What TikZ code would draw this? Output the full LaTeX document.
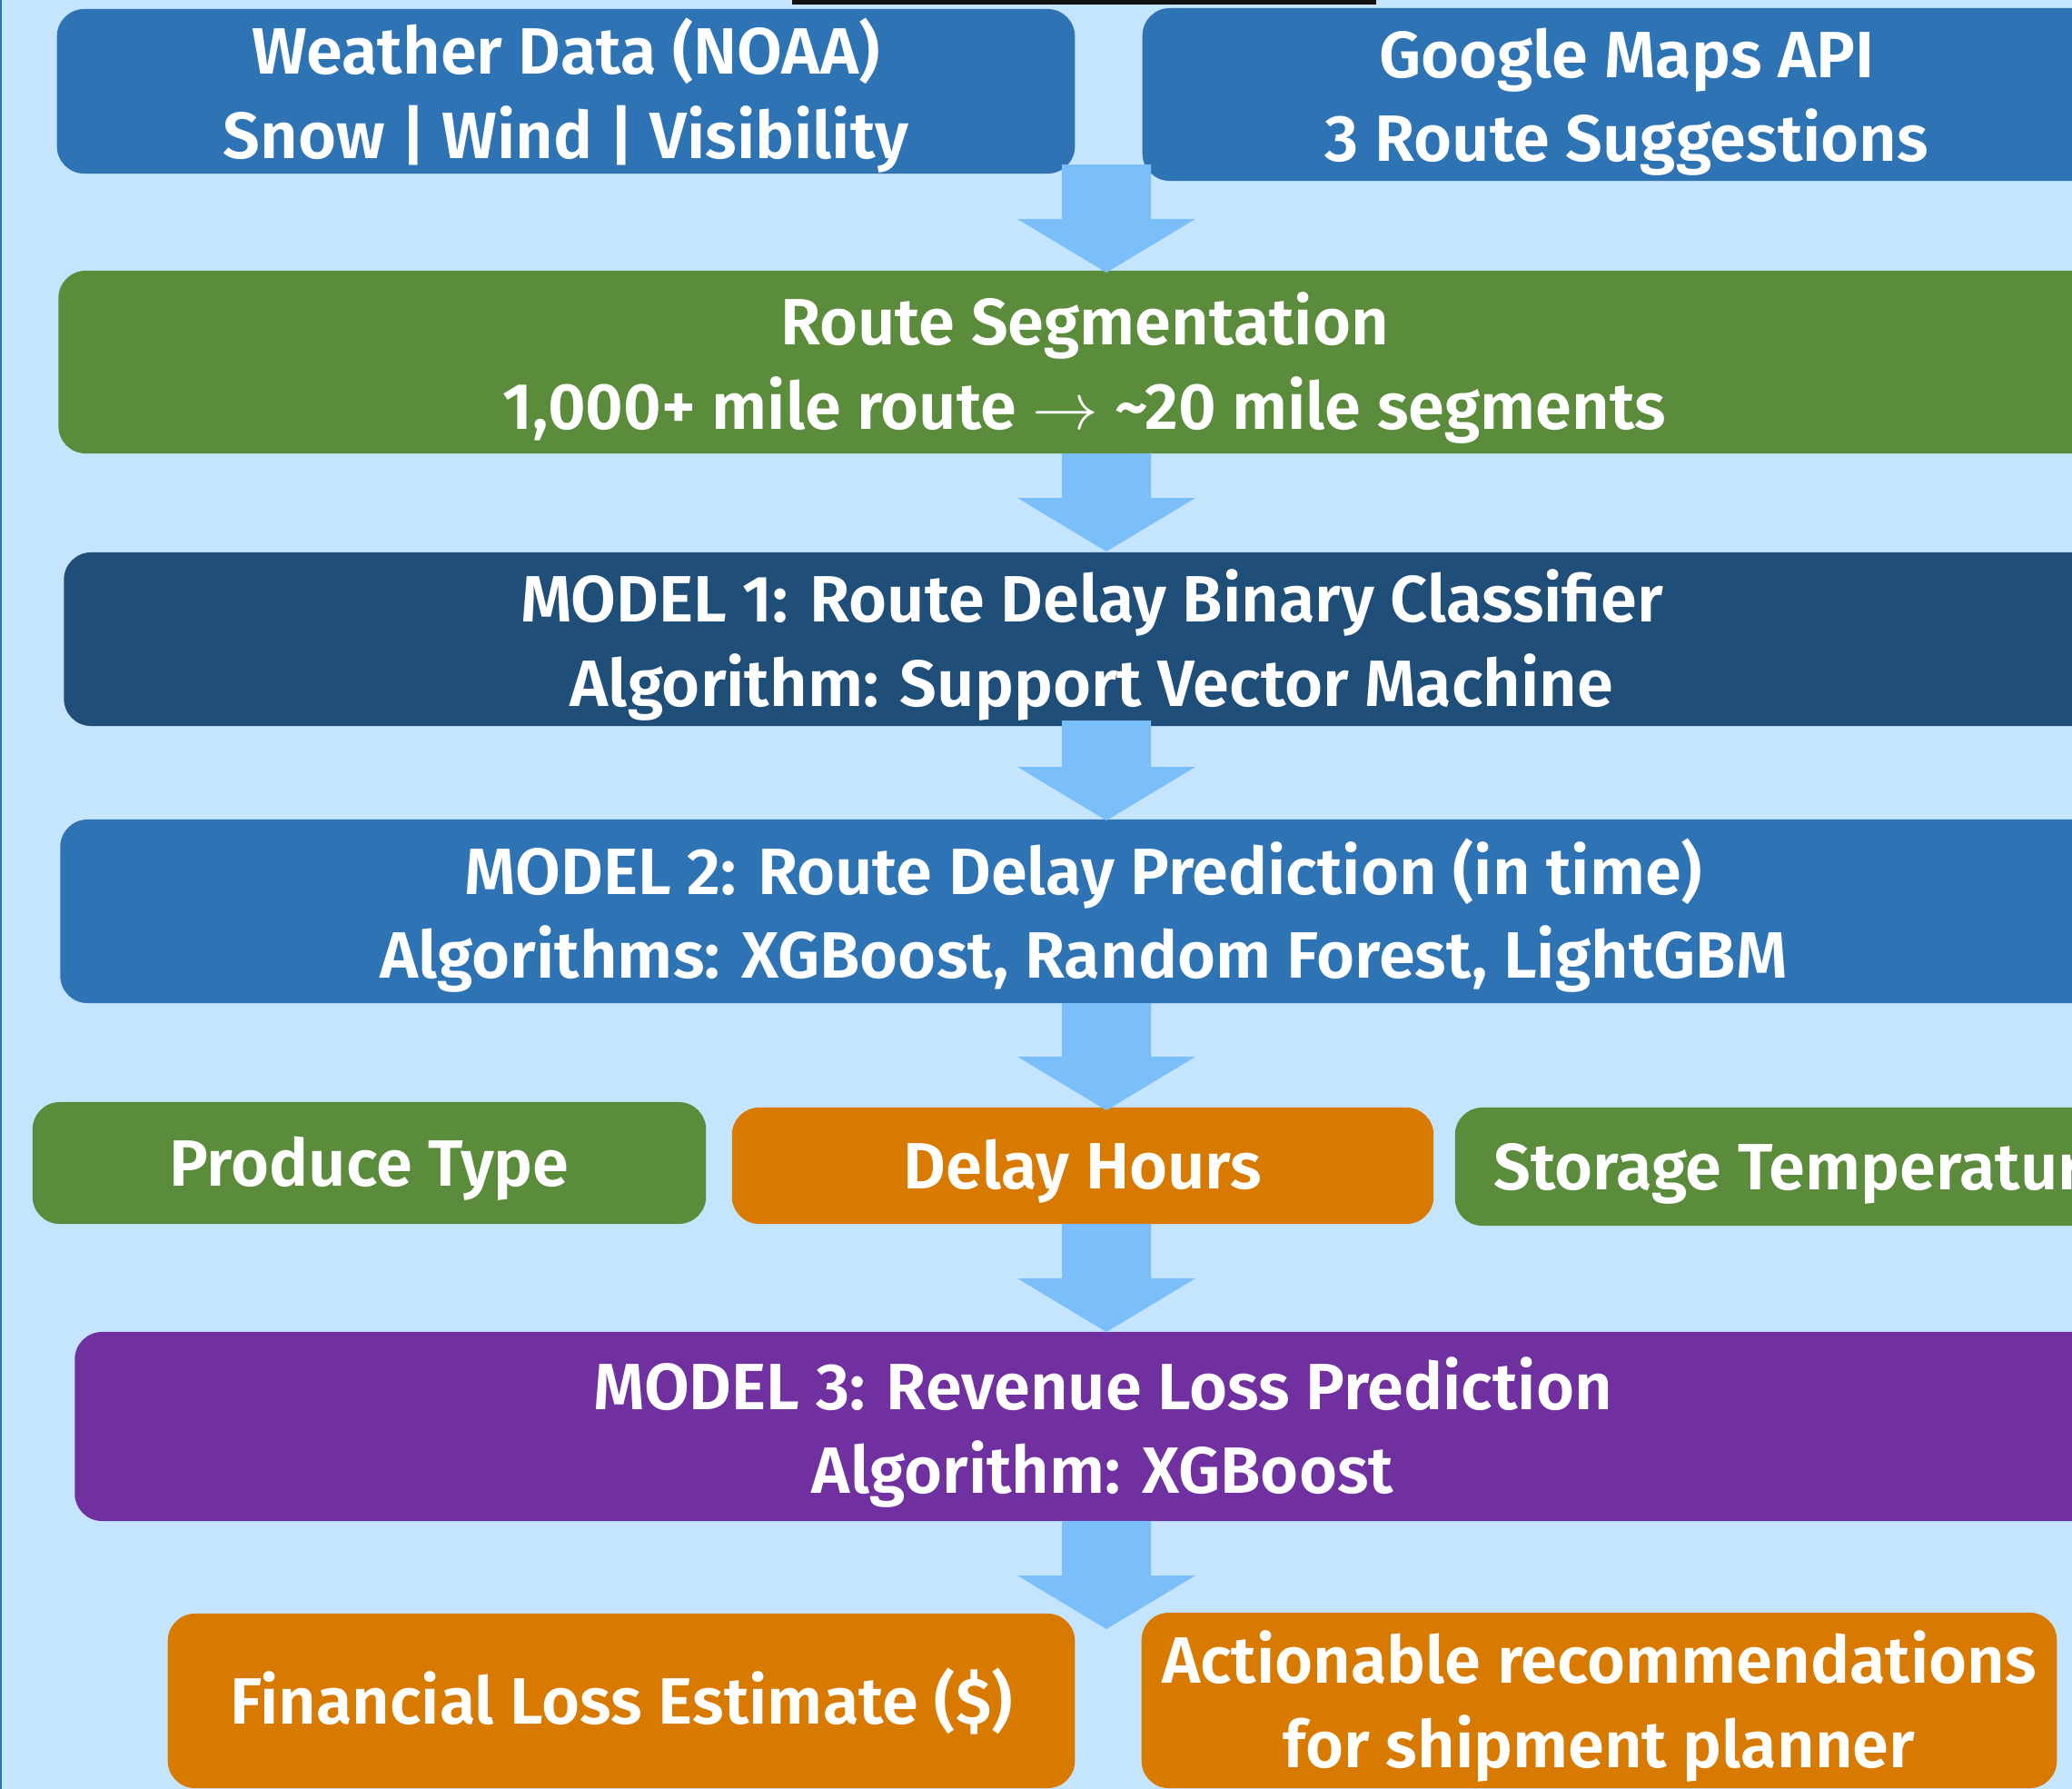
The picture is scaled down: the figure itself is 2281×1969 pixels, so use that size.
\documentclass[tikz,border=0pt]{standalone}
\usepackage{fontspec}
\setmainfont{Fira Sans}[UprightFont=* SemiBold]
\definecolor{bgc}{HTML}{C5E4FD}
\definecolor{cblue}{HTML}{2E74B5}
\definecolor{cgreen}{HTML}{5B8C3B}
\definecolor{cnavy}{HTML}{1F4E79}
\definecolor{corange}{HTML}{D87A00}
\definecolor{cpurple}{HTML}{7030A0}
\definecolor{carrow}{HTML}{7BBFFA}
\newcommand\blkarrow[2]{%
  \fill[carrow] (1169,#1) -- (1267,#1) -- (1267,#2-59) -- (1316,#2-59) -- (1218,#2) -- (1120,#2-59) -- (1169,#2-59) -- cycle;}
\begin{document}
\begin{tikzpicture}[x=0.01cm,y=-0.01cm,
  box/.style={rounded corners=0.3cm, inner sep=0pt, text=white, align=center,
    font=\fontsize{20.5}{26.2}\selectfont, text height=18.4pt, text depth=4pt},
  twobox/.style={box, text height=45.8pt, text depth=4pt}]
\useasboundingbox (0,0) rectangle (2281,1969);
\clip (0,0) rectangle (2281,1969);
\fill[bgc] (0,0) rectangle (2281,1969);
\fill[cblue] (0,0) rectangle (2.5,1969);
\fill[black!93] (872,0) rectangle (1515,5);
% boxes
\node[twobox, fill=cblue, minimum width=11.2cm, minimum height=1.81cm] (weather) at (623,100.5) {Weather Data (NOAA)\\Snow | Wind | Visibility};
\node[twobox, fill=cblue, minimum width=10.66cm, minimum height=1.9cm] (google) at (1791,104) {Google Maps API\\3 Route Suggestions};
\node[twobox, fill=cgreen, minimum width=22.58cm, minimum height=2.01cm] (seg) at (1194,398.5) {Route Segmentation\\1,000+ mile route $\rightarrow$ \textasciitilde 20 mile segments};
\node[twobox, fill=cnavy, minimum width=22.62cm, minimum height=1.91cm] (m1) at (1202,703.5) {MODEL 1: Route Delay Binary Classifier\\Algorithm: Support Vector Machine};
\node[twobox, fill=cblue, minimum width=22.52cm, minimum height=2.02cm] (m2) at (1193,1003) {MODEL 2: Route Delay Prediction (in time)\\Algorithms: XGBoost, Random Forest, LightGBM};
\node[box, fill=cgreen, minimum width=7.41cm, minimum height=1.34cm] (produce) at (406.5,1280) {Produce Type};
\node[box, fill=corange, minimum width=7.72cm, minimum height=1.28cm] (delay) at (1192,1283) {Delay Hours};
\node[box, fill=cgreen, minimum width=7.72cm, minimum height=1.3cm] (storage) at (1988,1284) {Storage Temperature};
\node[twobox, fill=cpurple, minimum width=22.62cm, minimum height=2.08cm] (m3) at (1214,1570) {MODEL 3: Revenue Loss Prediction\\Algorithm: XGBoost};
\node[box, fill=corange, minimum width=9.98cm, minimum height=1.92cm] (fin) at (684,1872) {Financial Loss Estimate (\$)};
\node[twobox, fill=corange, minimum width=10.07cm, minimum height=1.93cm] (act) at (1760.5,1871.5) {Actionable recommendations\\for shipment planner};
% block arrows
\blkarrow{181}{300}
\blkarrow{499}{607}
\blkarrow{793}{903}
\blkarrow{1104}{1222}
\blkarrow{1347}{1466}
\blkarrow{1674}{1793}
\end{tikzpicture}
\end{document}
